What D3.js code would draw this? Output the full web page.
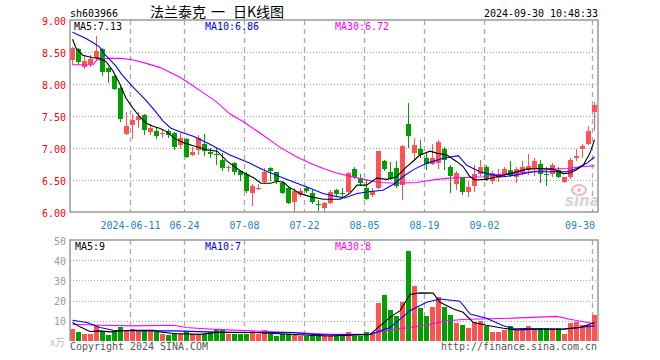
<!DOCTYPE html>
<html>
<head>
<meta charset="utf-8">
<script src="https://cdn.jsdelivr.net/npm/d3@7"></script>
<style>
  body { margin: 0; background: #fff; }
</style>
</head>
<body>
<div id="chart"></div>
<script>
const dates = [
  "2024-05-27","2024-05-28","2024-05-29","2024-05-30","2024-05-31",
  "2024-06-03","2024-06-04","2024-06-05","2024-06-06","2024-06-07",
  "2024-06-11","2024-06-12","2024-06-13","2024-06-14",
  "2024-06-17","2024-06-18","2024-06-19","2024-06-20","2024-06-21",
  "2024-06-24","2024-06-25","2024-06-26","2024-06-27","2024-06-28",
  "2024-07-01","2024-07-02","2024-07-03","2024-07-04","2024-07-05",
  "2024-07-08","2024-07-09","2024-07-10","2024-07-11","2024-07-12",
  "2024-07-15","2024-07-16","2024-07-17","2024-07-18","2024-07-19",
  "2024-07-22","2024-07-23","2024-07-24","2024-07-25","2024-07-26",
  "2024-07-29","2024-07-30","2024-07-31","2024-08-01","2024-08-02",
  "2024-08-05","2024-08-06","2024-08-07","2024-08-08","2024-08-09",
  "2024-08-12","2024-08-13","2024-08-14","2024-08-15","2024-08-16",
  "2024-08-19","2024-08-20","2024-08-21","2024-08-22","2024-08-23",
  "2024-08-26","2024-08-27","2024-08-28","2024-08-29","2024-08-30",
  "2024-09-02","2024-09-03","2024-09-04","2024-09-05","2024-09-06",
  "2024-09-09","2024-09-10","2024-09-11","2024-09-12","2024-09-13",
  "2024-09-18","2024-09-19","2024-09-20",
  "2024-09-23","2024-09-24","2024-09-25","2024-09-26","2024-09-27",
  "2024-09-30"
];

const open = [
  8.37,8.55,8.26,8.31,8.40,8.55,8.25,8.13,7.94,7.22,
  7.36,7.44,7.52,7.25,7.27,7.23,7.26,7.24,7.04,7.14,
  6.89,6.97,7.06,6.93,6.91,6.82,6.68,6.76,6.64,6.60,
  6.30,6.37,6.47,6.68,6.62,6.46,6.38,6.15,6.27,6.38,
  6.30,6.12,6.06,6.14,6.35,6.30,6.32,6.67,6.53,6.37,
  6.27,6.37,6.79,6.63,6.69,6.42,7.38,6.92,6.99,6.84,
  6.75,6.76,6.99,6.71,6.44,6.54,6.31,6.40,6.59,6.70,
  6.48,6.53,6.58,6.66,6.55,6.63,6.66,6.67,6.75,6.60,
  6.59,6.65,6.47,6.54,6.85,6.98,7.07,7.57
];
const high = [
  8.58,8.56,8.45,8.45,8.75,8.57,8.27,8.15,7.96,7.56,
  7.53,7.56,7.53,7.37,7.33,7.29,7.30,7.25,7.23,7.16,
  7.02,7.20,7.22,7.00,7.00,6.92,6.74,6.78,6.66,6.63,
  6.43,6.43,6.68,6.71,6.63,6.48,6.40,6.37,6.38,6.41,
  6.34,6.19,6.15,6.34,6.36,6.37,6.62,6.71,6.60,6.50,
  6.37,6.96,6.81,6.78,6.79,7.04,7.70,7.15,7.13,6.92,
  7.06,7.13,7.01,6.74,6.64,6.55,6.48,6.74,6.82,6.74,
  6.64,6.67,6.71,6.80,6.71,6.79,6.91,6.85,6.81,6.71,
  6.76,6.71,6.55,6.85,6.99,7.06,7.35,7.72
];
const low = [
  8.30,8.31,8.24,8.26,8.38,8.12,8.02,7.90,7.41,7.20,
  7.14,7.32,7.21,7.20,7.14,7.15,7.15,6.97,6.99,6.84,
  6.88,6.89,6.88,6.84,6.73,6.64,6.63,6.58,6.49,6.30,
  6.10,6.34,6.45,6.48,6.44,6.28,6.13,6.00,6.24,6.29,
  6.12,6.01,6.01,6.13,6.23,6.23,6.28,6.52,6.40,6.19,
  6.24,6.36,6.64,6.50,6.38,6.19,7.00,6.80,6.84,6.66,
  6.74,6.67,6.66,6.30,6.35,6.27,6.24,6.32,6.56,6.48,
  6.44,6.47,6.55,6.55,6.46,6.58,6.58,6.56,6.45,6.41,
  6.55,6.53,6.46,6.51,6.80,6.85,7.04,7.26
];
const close = [
  8.56,8.35,8.36,8.39,8.52,8.18,8.19,7.92,7.45,7.34,
  7.43,7.50,7.28,7.32,7.18,7.24,7.21,7.01,7.16,6.86,
  6.94,7.16,6.96,6.90,6.89,6.69,6.70,6.62,6.58,6.33,
  6.40,6.38,6.62,6.64,6.49,6.30,6.14,6.33,6.33,6.33,
  6.15,6.11,6.14,6.32,6.28,6.29,6.61,6.55,6.46,6.21,
  6.33,6.95,6.67,6.52,6.40,7.03,7.18,7.05,6.89,6.75,
  6.84,7.09,6.82,6.57,6.61,6.31,6.39,6.59,6.71,6.51,
  6.61,6.59,6.67,6.58,6.67,6.71,6.72,6.79,6.59,6.59,
  6.73,6.54,6.54,6.81,6.88,7.03,7.27,7.67
];
const volume = [
  6.0,4.5,3.5,3.5,7.2,5.0,3.0,5.0,7.0,5.0,
  5.8,5.0,5.3,5.3,5.0,3.7,3.0,4.0,3.3,4.5,
  3.3,3.3,3.3,4.5,5.8,5.3,3.7,3.7,3.7,3.7,
  5.0,3.7,5.5,3.7,2.5,3.7,3.7,3.7,2.5,2.5,
  3.0,3.0,2.5,2.5,2.5,2.5,4.7,2.5,2.5,4.5,
  3.3,18.7,23.0,15.5,12.5,19.2,44.5,27.0,16.2,12.5,
  17.0,22.0,17.0,13.0,8.7,8.0,6.2,9.2,10.0,7.2,
  4.7,4.7,5.3,7.2,5.3,5.3,7.5,6.2,6.2,6.2,
  6.2,6.2,3.7,8.7,9.2,7.8,8.0,13.0
];

// moving averages: [day index, value]
const ma5 = [
  [0,8.70],[0.6,8.56],[1.7,8.45],[3.4,8.41],[4.5,8.40],[5.6,8.35],[6.7,8.21],
  [7.8,8.02],[8.9,7.78],[10,7.63],[11.1,7.50],[12.25,7.39],[13.4,7.34],[14.5,7.31],
  [15.6,7.26],[17,7.15],[18.6,7.08],[20.25,7.03],[22.5,6.97],[24.1,6.95],[25.8,6.79],
  [28,6.64],[30.25,6.53],[31.4,6.45],[33,6.45],[34.1,6.48],[35.25,6.46],[35.9,6.40],
  [37.9,6.29],[39.6,6.24],[41.8,6.20],[44.6,6.20],[46.25,6.29],[47.4,6.42],[49,6.42],
  [50.7,6.53],[52.4,6.51],[54,6.55],[55.7,6.71],[56.25,6.75],[57.9,6.89],[59.6,6.95],
  [60.7,6.92],[62.4,6.89],[64,6.79],[65.1,6.71],[66.25,6.55],[67.1,6.50],[69,6.51],
  [70.7,6.55],[72.9,6.60],[75.7,6.67],[77.9,6.68],[80.1,6.67],[81.8,6.60],[82.9,6.61],
  [84,6.66],[85.1,6.73],[86.25,6.92],[87,7.13]
];
const ma10 = [
  [0,8.81],[2.25,8.71],[3.5,8.64],[4.5,8.58],[5.3,8.47],[7.25,8.28],[8.2,8.15],
  [10.1,7.95],[12.1,7.76],[13.75,7.58],[15.1,7.42],[16.4,7.31],[18,7.25],[20.25,7.18],
  [22.9,7.06],[26.25,6.89],[29.6,6.76],[31.75,6.66],[34.6,6.55],[37.4,6.45],[39.6,6.37],
  [41.75,6.29],[44.1,6.24],[45.4,6.22],[47.4,6.29],[49.6,6.32],[51.75,6.34],[54,6.46],
  [55,6.55],[57,6.67],[59,6.76],[61.8,6.84],[64.3,6.88],[65.7,6.73],[67.9,6.63],
  [70.1,6.58],[71.8,6.55],[74,6.58],[76.8,6.63],[79.6,6.63],[82.4,6.63],[84,6.68],
  [85.7,6.76],[87,6.86]
];
const ma30 = [
  [0,8.30],[3.4,8.30],[4,8.37],[6,8.40],[8,8.40],[10,8.38],[12,8.33],[14.5,8.26],
  [16.5,8.17],[18,8.10],[20.25,7.96],[22,7.85],[24,7.72],[26.25,7.53],[28.5,7.41],
  [31.6,7.21],[34.6,7.01],[37.4,6.86],[39.6,6.76],[41.8,6.68],[44,6.61],[46.25,6.56],
  [48.5,6.51],[51.25,6.46],[54,6.45],[57.4,6.46],[60.7,6.51],[62.9,6.53],[65.7,6.54],
  [68.5,6.55],[71.25,6.59],[76.8,6.63],[79.6,6.67],[82.4,6.68],[85.1,6.71],[87,6.72]
];
const vma5 = [
  [0,9.2],[1.25,7.0],[2.9,4.7],[4.6,5.0],[6.25,4.5],[7.9,5.0],[10.1,5.3],[13.5,5.3],
  [14.6,4.5],[16.8,3.7],[21.25,3.3],[24,4.2],[30.1,4.2],[33.5,3.7],[36.8,3.3],[40.1,2.7],
  [42.9,2.5],[49.6,3.3],[51.25,7.5],[52.9,11.7],[54.6,15.0],[56.25,23.0],[57.9,23.8],
  [60.1,23.7],[61.25,19.2],[63.5,15.8],[65.1,14.2],[66.8,9.2],[69,7.8],[71.8,6.3],
  [74,5.5],[77.4,5.8],[81.8,5.8],[84.6,6.7],[87,9.2]
];
const vma10 = [
  [0,10.3],[2.4,9.2],[4.6,6.7],[6.8,5.3],[11.25,5.0],[16.8,5.0],[22.4,4.5],[30.1,4.2],
  [36.8,4.2],[40.1,3.3],[42.9,3.0],[49.6,3.3],[52.9,6.7],[54.6,10.8],[56.25,15.0],
  [59,19.2],[61.25,20.8],[64.6,19.7],[66.25,13.3],[69,11.3],[71.8,7.5],[73.5,6.3],
  [81.3,5.8],[87,7.5]
];
const vma30 = [
  [0,8.3],[4.6,7.8],[10.1,7.5],[16.8,7.8],[19,6.7],[21.25,6.2],[25.7,5.5],[32.4,4.7],
  [36.8,4.2],[42.9,3.3],[49.6,3.3],[51.8,5.0],[56.25,6.7],[59.6,8.3],[62.4,10.0],
  [65.7,10.8],[73.5,11.3],[80.7,12.2],[82.9,10.8],[87,8.5]
];

const tickDates = ["2024-06-11","2024-06-24","2024-07-08","2024-07-22","2024-08-05","2024-08-19","2024-09-02","2024-09-30"];
const priceTicks = [6, 6.5, 7, 7.5, 8, 8.5, 9];
const volTicks = [10, 20, 30, 40, 50];
const titleParts = ["法兰泰克", "一", "日K线图"];

const width = 660, height = 360;
const left = 70, right = 598;
const red = "#ff5353", green = "#00a000";

const svg = d3.select("#chart").append("svg")
  .attr("width", width).attr("height", height)
  .style("font-family", "'DejaVu Sans Mono', monospace");

const x = d3.scaleLinear().domain([0, dates.length - 1]).range([72, 594]);
const y = d3.scaleLinear().domain([6, 9]).range([212, 20]);
const yv = d3.scaleLinear().domain([0, 50]).range([341, 240]);

function mono(g, str, tx, ty, color, anchor) {
  return g.append("text")
    .attr("x", tx).attr("y", ty)
    .attr("fill", color)
    .attr("text-anchor", anchor || "start")
    .attr("font-size", 11)
    .attr("textLength", str.length * 6)
    .attr("lengthAdjust", "spacingAndGlyphs")
    .text(str);
}

// header
mono(svg, "sh603966", 70, 17, "#000");
const titleX = [150, 211, 233];
titleParts.forEach((t, i) => {
  svg.append("text").attr("x", titleX[i]).attr("y", 17)
    .attr("font-family", "'Noto Sans CJK SC', sans-serif").attr("font-size", 14)
    .attr("fill", "#000").text(t);
});
mono(svg, "2024-09-30 10:48:33", 598, 17, "#000", "end");

// ----- price panel -----
const main = svg.append("g");

main.selectAll(".hgrid").data(priceTicks.slice(1, -1)).enter().append("line")
  .attr("x1", left).attr("x2", right)
  .attr("y1", d => y(d) + 0.5).attr("y2", d => y(d) + 0.5)
  .attr("stroke", "#a8a8a8").attr("stroke-dasharray", "1,2");

const tickIdx = tickDates.map(d => dates.indexOf(d));
main.selectAll(".vgrid").data(tickIdx).enter().append("line")
  .attr("x1", d => x(d) - 1.5).attr("x2", d => x(d) - 1.5)
  .attr("y1", 20).attr("y2", 212)
  .attr("stroke", "#aaa").attr("stroke-width", 1.3).attr("stroke-dasharray", "5,4");

main.selectAll(".plab").data(priceTicks).enter().append("text")
  .attr("x", 66).attr("y", d => y(d) + 4.5)
  .attr("text-anchor", "end").attr("fill", "#f00").attr("font-size", 11)
  .attr("textLength", 24).attr("lengthAdjust", "spacingAndGlyphs")
  .text(d => d.toFixed(2));

main.selectAll(".xlab").data(tickIdx).enter().append("text")
  .attr("x", (d, i) => i === tickIdx.length - 1 ? 595 : x(d) - 1.5)
  .attr("y", 229)
  .attr("text-anchor", (d, i) => i === tickIdx.length - 1 ? "end" : "middle")
  .attr("fill", "#1b7fd0").attr("font-size", 11)
  .attr("textLength", (d, i) => i === 0 ? 60 : 30)
  .attr("lengthAdjust", "spacingAndGlyphs")
  .text((d, i) => i === 0 ? dates[d] : dates[d].slice(5));

// sina watermark
main.append("ellipse").attr("cx", 579).attr("cy", 190).attr("rx", 7).attr("ry", 5)
  .attr("fill", "none").attr("stroke", "#f3b3b3").attr("stroke-width", 2);
main.append("circle").attr("cx", 579).attr("cy", 190).attr("r", 2).attr("fill", "#f3b3b3");
main.append("text").attr("x", 565).attr("y", 206)
  .attr("font-family", "'DejaVu Sans', sans-serif").attr("font-size", 15)
  .attr("font-style", "italic").attr("font-weight", "bold")
  .attr("fill", "#d6d6d6").text("sina");

const idx = d3.range(dates.length);
const up = i => close[i] >= open[i];

main.selectAll(".wick").data(idx).enter().append("line")
  .attr("x1", i => x(i) + 0.5).attr("x2", i => x(i) + 0.5)
  .attr("y1", i => y(high[i])).attr("y2", i => y(low[i]))
  .attr("stroke", i => up(i) ? red : green)
  .attr("shape-rendering", "crispEdges");

main.selectAll(".body").data(idx).enter().append("rect")
  .attr("x", i => x(i) - 2)
  .attr("width", 5)
  .attr("y", i => y(Math.max(open[i], close[i])))
  .attr("height", i => Math.max(1, Math.abs(y(open[i]) - y(close[i]))))
  .attr("fill", i => up(i) ? red : green)
  .attr("shape-rendering", "crispEdges");

const line = d3.line().x(d => x(d[0]) + 0.5).y(d => y(d[1]));
[[ma30, "#ff00ff"], [ma10, "#0000ff"], [ma5, "#000"]].forEach(([s, c]) => {
  main.append("path").datum(s).attr("d", line)
    .attr("fill", "none").attr("stroke", c).attr("stroke-width", 1.1);
});

main.append("rect").attr("x", left).attr("y", 20)
  .attr("width", right - left).attr("height", 192)
  .attr("fill", "none").attr("stroke", "#999").attr("stroke-width", 1.5);

mono(main, "MA5:7.13", 74, 30, "#000");
mono(main, "MA10:6.86", 205, 30, "#0000ff");
mono(main, "MA30:6.72", 335, 30, "#ff00ff");

// ----- volume panel -----
const vol = svg.append("g");

vol.selectAll(".hgrid").data(volTicks.slice(0, -1)).enter().append("line")
  .attr("x1", left).attr("x2", right)
  .attr("y1", d => Math.round(yv(d)) + 0.5).attr("y2", d => Math.round(yv(d)) + 0.5)
  .attr("stroke", "#a8a8a8").attr("stroke-dasharray", "1,2");

vol.selectAll(".vgrid").data(tickIdx).enter().append("line")
  .attr("x1", d => x(d) - 1.5).attr("x2", d => x(d) - 1.5)
  .attr("y1", 240).attr("y2", 341)
  .attr("stroke", "#aaa").attr("stroke-width", 1.3).attr("stroke-dasharray", "5,4");

vol.selectAll(".vlab").data(volTicks).enter().append("text")
  .attr("x", 66).attr("y", d => yv(d) + 4.5)
  .attr("text-anchor", "end").attr("fill", "#999").attr("font-size", 11)
  .attr("textLength", 12).attr("lengthAdjust", "spacingAndGlyphs")
  .text(d => d);

vol.append("text").attr("x", 65).attr("y", 346)
  .attr("text-anchor", "end").attr("fill", "#bbb")
  .attr("font-family", "'Noto Sans CJK SC', sans-serif").attr("font-size", 10)
  .text("x万");

vol.selectAll(".bar").data(idx).enter().append("rect")
  .attr("x", i => x(i) - 2)
  .attr("width", 5)
  .attr("y", i => yv(volume[i]))
  .attr("height", i => yv(0) - yv(volume[i]))
  .attr("fill", i => up(i) ? red : green)
  .attr("shape-rendering", "crispEdges");

const vline = d3.line().x(d => x(d[0]) + 0.5).y(d => yv(d[1]));
[[vma30, "#ff00ff"], [vma10, "#0000ff"], [vma5, "#000"]].forEach(([s, c]) => {
  vol.append("path").datum(s).attr("d", vline)
    .attr("fill", "none").attr("stroke", c).attr("stroke-width", 1.1);
});

vol.append("path")
  .attr("d", `M${left},341V240H${right}V341`)
  .attr("fill", "none").attr("stroke", "#999").attr("stroke-width", 1.5);

mono(vol, "MA5:9", 75, 250, "#000");
mono(vol, "MA10:7", 205, 250, "#0000ff");
mono(vol, "MA30:8", 335, 250, "#ff00ff");

mono(svg, "Copyright 2024 SINA.COM", 70, 350, "#555");
mono(svg, "http://finance.sina.com.cn", 597, 350, "#555", "end");
</script>
</body>
</html>
